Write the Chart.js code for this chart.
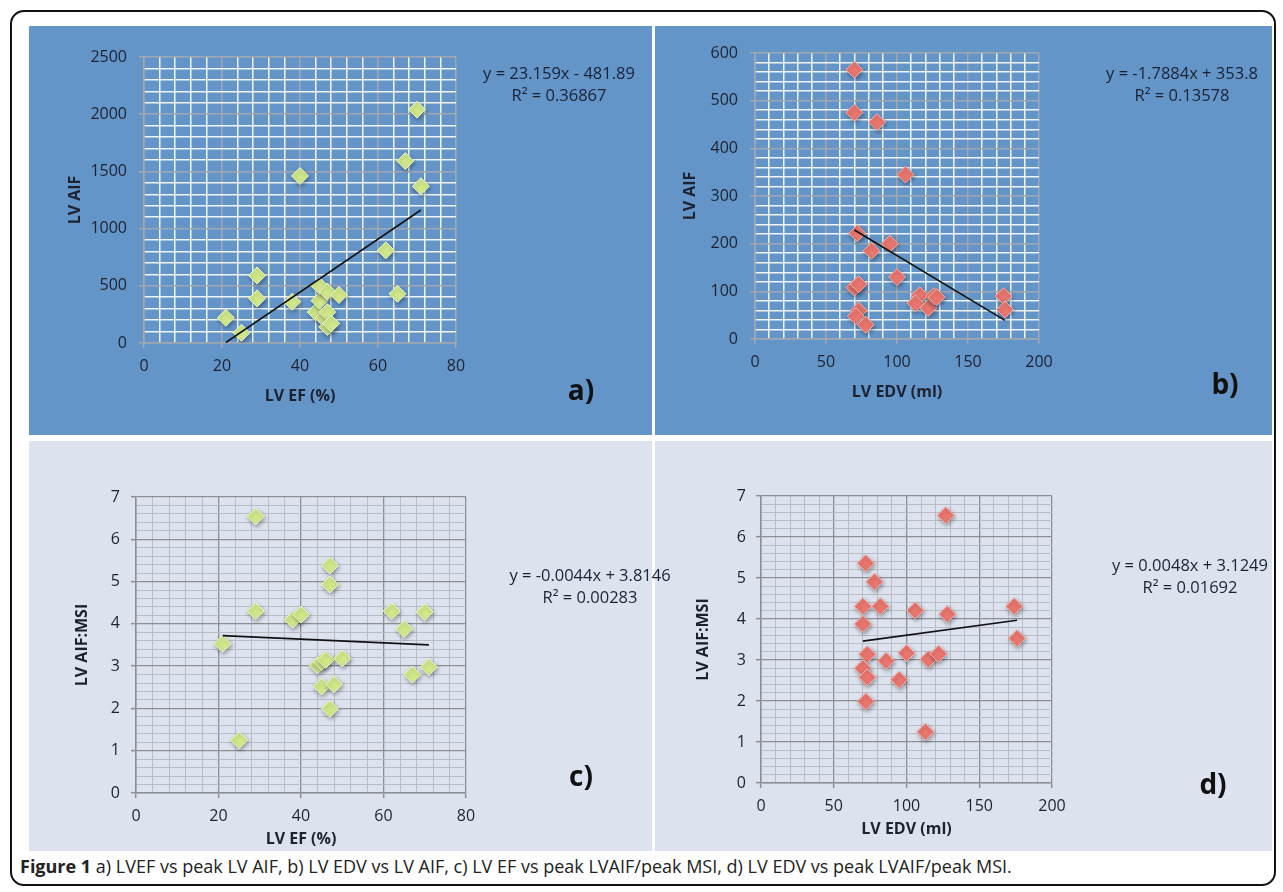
<!DOCTYPE html>
<html><head><meta charset="utf-8">
<script src="https://cdn.jsdelivr.net/npm/chart.js@4/dist/chart.umd.min.js"></script>
<style>
html,body{margin:0;padding:0;background:#fff;}
body{width:1283px;height:892px;position:relative;overflow:hidden;font-family:"Open Sans",sans-serif;}
#frame{position:absolute;left:10px;top:10px;width:1262px;height:872px;border:2px solid #111;border-radius:14px;}
.panel{position:absolute;}
.panel canvas{position:absolute;left:0;top:0;}
.eq{position:absolute;transform:translate(-50%,-50%);font-size:16.5px;color:#1b2233;white-space:nowrap;text-align:center;line-height:22px;}
.lbl{position:absolute;transform:translate(-50%,-50%);font-size:28px;font-weight:700;color:#111;line-height:1;}
#caption{position:absolute;left:20px;top:866px;transform:translateY(-50%);font-size:18px;color:#222;white-space:nowrap;}
#caption b{font-weight:700;}
</style></head>
<body>
<div id="frame"></div>
<div class="panel" id="pa" style="left:29px;top:26px;width:623px;height:409px;background:#6395c9;"></div>
<div class="panel" id="pb" style="left:655px;top:26px;width:617px;height:409px;background:#6395c9;"></div>
<div class="panel" id="pc" style="left:29px;top:441px;width:623px;height:410px;background:#dce2ee;"></div>
<div class="panel" id="pd" style="left:655px;top:441px;width:617px;height:410px;background:#dce2ee;"></div>
<div class="eq" style="left:559px;top:84px;">y = 23.159x - 481.89<br>R² = 0.36867</div>
<div class="eq" style="left:1182px;top:84px;">y = -1.7884x + 353.8<br>R² = 0.13578</div>
<div class="eq" style="left:590px;top:586px;">y = -0.0044x + 3.8146<br>R² = 0.00283</div>
<div class="eq" style="left:1190px;top:576px;">y = 0.0048x + 3.1249<br>R² = 0.01692</div>
<div class="lbl" style="left:581px;top:389px;">a)</div>
<div class="lbl" style="left:1225px;top:383px;">b)</div>
<div class="lbl" style="left:581px;top:775px;">c)</div>
<div class="lbl" style="left:1213px;top:783px;">d)</div>
<div id="caption"><b>Figure 1</b> a) LVEF vs peak LV AIF, b) LV EDV vs LV AIF, c) LV EF vs peak LVAIF/peak MSI, d) LV EDV vs peak LVAIF/peak MSI.</div>
<script>
// ---- data ----
const efA  = [21, 25, 29, 29, 38, 40, 44, 45, 45, 46, 47, 47, 47, 48, 50, 62, 65, 67, 70, 71];
const aifA = [220, 90, 590, 390, 360, 1460, 270, 370, 500, 220, 450, 270, 140, 170, 420, 810, 430, 1590, 2040, 1370];

const edvB = [70, 70, 86, 106, 72, 95, 82, 100, 70, 73, 73, 71, 78, 116, 113, 122, 126, 128, 175, 176];
const aifB = [565, 475, 455, 345, 222, 200, 185, 130, 108, 115, 60, 48, 30, 92, 75, 65, 90, 88, 90, 62];

const efC  = [21, 25, 29, 29, 38, 40, 47, 47, 44, 45, 46, 50, 45, 48, 47, 62, 65, 70, 67, 71];
const msiC = [3.53, 1.25, 6.54, 4.30, 4.10, 4.22, 5.38, 4.93, 3.02, 3.10, 3.15, 3.18, 2.52, 2.57, 1.99, 4.30, 3.88, 4.28, 2.80, 2.98];

const edvD = [127, 72, 78, 70, 82, 106, 128, 174, 70, 176, 73, 86, 100, 115, 122, 70, 73, 95, 72, 113];
const msiD = [6.53, 5.36, 4.91, 4.31, 4.31, 4.21, 4.12, 4.31, 3.88, 3.53, 3.14, 2.98, 3.17, 3.02, 3.15, 2.80, 2.58, 2.52, 1.99, 1.25];

const trendSlopes     = [23.159, -1.7884, -0.0044, 0.0048];
const trendIntercepts = [-481.89, 353.8, 3.8146, 3.1249];

const xAxisTitles = ['LV EF (%)', 'LV EDV (ml)', 'LV EF (%)', 'LV EDV (ml)'];
const yAxisTitles = ['LV AIF', 'LV AIF', 'LV AIF:MSI', 'LV AIF:MSI'];

Chart.defaults.font.family = '"Open Sans", sans-serif';

const shadowPlugin = {
  id: 'ptShadow',
  beforeDatasetDraw(chart, args) {
    if (args.index === 1) {
      const c = chart.ctx; c.save();
      c.shadowColor = 'rgba(0,0,0,0.35)'; c.shadowBlur = 4; c.shadowOffsetX = 1; c.shadowOffsetY = 2;
    }
  },
  afterDatasetDraw(chart, args) { if (args.index === 1) chart.ctx.restore(); }
};

function makeChart(cfg) {
  const panel = document.getElementById(cfg.id);
  const W = cfg.w, H = cfg.h;
  const canvas = document.createElement('canvas');
  canvas.width = W; canvas.height = H;
  canvas.style.width = W + 'px'; canvas.style.height = H + 'px';
  panel.appendChild(canvas);
  const titleSize = 16;
  const lh = titleSize * 1.2;
  const padLeft = cfg.yTitleX - lh / 2;
  const yWidth = cfg.area.L - padLeft;
  const xBottom = cfg.xTitleY + lh / 2;
  const xHeight = xBottom - cfg.area.B;
  const isMaj = (v, m) => Math.abs(v / m - Math.round(v / m)) < 1e-6;
  const pts = cfg.x.map((x, i) => ({x: x, y: cfg.y[i]}));
  const xmin = Math.min(...cfg.x), xmax = Math.max(...cfg.x);
  const trend = [{x: xmin, y: cfg.slope * xmin + cfg.intercept}, {x: xmax, y: cfg.slope * xmax + cfg.intercept}];
  const gridOpts = (m) => ({
    color: ctx => (ctx.tick && isMaj(ctx.tick.value, m)) ? cfg.majorC : cfg.minorC,
    lineWidth: ctx => (ctx.tick && isMaj(ctx.tick.value, m)) ? cfg.majorW : cfg.minorW,
    tickLength: 5,
    tickColor: ctx => (ctx.tick && isMaj(ctx.tick.value, m)) ? cfg.majorC : 'rgba(0,0,0,0)',
    tickWidth: 1.5
  });
  const titleFont = {size: titleSize, weight: 'bold', lineHeight: 1.2};
  const tickFont = {size: 16};
  new Chart(canvas, {
    type: 'scatter',
    data: {datasets: [
      {data: trend, showLine: true, borderColor: '#111', borderWidth: 1.6, pointRadius: 0, fill: false},
      {data: pts, pointStyle: 'rectRot', pointRadius: 8.5, pointHoverRadius: 8.5,
       backgroundColor: cfg.fill, borderColor: cfg.edge, borderWidth: 1}
    ]},
    options: {
      responsive: false, animation: false, devicePixelRatio: 1,
      layout: {padding: {left: padLeft, top: cfg.area.T, right: W - cfg.area.R, bottom: H - xBottom}},
      plugins: {legend: {display: false}, tooltip: {enabled: false}},
      scales: {
        x: {
          type: 'linear', position: 'bottom', min: 0, max: cfg.xMax,
          afterFit: s => { s.height = xHeight; },
          ticks: {stepSize: cfg.xMinor, autoSkip: false, maxRotation: 0, minRotation: 0, padding: 9,
                  color: '#1e2230', font: tickFont,
                  callback: v => isMaj(v, cfg.xMajor) ? String(Math.round(v)) : ''},
          grid: gridOpts(cfg.xMajor),
          border: {display: true, color: cfg.majorC, width: 1.5},
          title: {display: true, text: cfg.xTitle, color: '#1e2230', font: titleFont, padding: 0}
        },
        y: {
          type: 'linear', position: 'left', min: 0, max: cfg.yMax,
          afterFit: s => { s.width = yWidth; },
          ticks: {stepSize: cfg.yMinor, autoSkip: false, padding: cfg.yPad,
                  color: '#1e2230', font: tickFont,
                  callback: v => isMaj(v, cfg.yMajor) ? String(Math.round(v)) : ''},
          grid: gridOpts(cfg.yMajor),
          border: {display: true, color: cfg.majorC, width: 1.5},
          title: {display: true, text: cfg.yTitle, color: '#1e2230', font: titleFont, padding: 0}
        }
      }
    },
    plugins: [shadowPlugin]
  });
}

const blueGrid = {majorC: '#a3a8b0', minorC: 'rgba(255,255,255,0.9)', majorW: 1.5, minorW: 1.5};
const greyGrid = {majorC: '#8d8f94', minorC: '#b9bcc3', majorW: 1.3, minorW: 1};
const greenPt = {fill: '#d2e98a', edge: '#eef7c8'};
const redPt = {fill: '#ea776f', edge: '#f6b1aa'};

makeChart(Object.assign({id: 'pa', w: 623, h: 409, area: {L: 115, T: 31, R: 427, B: 317}, yTitleX: 46, xTitleY: 370, yPad: 12,
  x: efA, y: aifA, slope: trendSlopes[0], intercept: trendIntercepts[0],
  xMax: 80, xMinor: 4, xMajor: 20, yMax: 2500, yMinor: 100, yMajor: 500,
  xTitle: xAxisTitles[0], yTitle: yAxisTitles[0]}, blueGrid, greenPt));

makeChart(Object.assign({id: 'pb', w: 617, h: 409, area: {L: 100, T: 27, R: 384, B: 313}, yTitleX: 35, xTitleY: 366, yPad: 12,
  x: edvB, y: aifB, slope: trendSlopes[1], intercept: trendIntercepts[1],
  xMax: 200, xMinor: 10, xMajor: 50, yMax: 600, yMinor: 20, yMajor: 100,
  xTitle: xAxisTitles[1], yTitle: yAxisTitles[1]}, blueGrid, redPt));

makeChart(Object.assign({id: 'pc', w: 623, h: 410, area: {L: 107, T: 56, R: 437, B: 352}, yTitleX: 53, xTitleY: 398, yPad: 11,
  x: efC, y: msiC, slope: trendSlopes[2], intercept: trendIntercepts[2],
  xMax: 80, xMinor: 4, xMajor: 20, yMax: 7, yMinor: 0.2, yMajor: 1,
  xTitle: xAxisTitles[2], yTitle: yAxisTitles[2]}, greyGrid, greenPt));

makeChart(Object.assign({id: 'pd', w: 617, h: 410, area: {L: 106, T: 55, R: 397, B: 342}, yTitleX: 48, xTitleY: 388, yPad: 10,
  x: edvD, y: msiD, slope: trendSlopes[3], intercept: trendIntercepts[3],
  xMax: 200, xMinor: 10, xMajor: 50, yMax: 7, yMinor: 0.2, yMajor: 1,
  xTitle: xAxisTitles[3], yTitle: yAxisTitles[3]}, greyGrid, redPt));
</script>
</body></html>
